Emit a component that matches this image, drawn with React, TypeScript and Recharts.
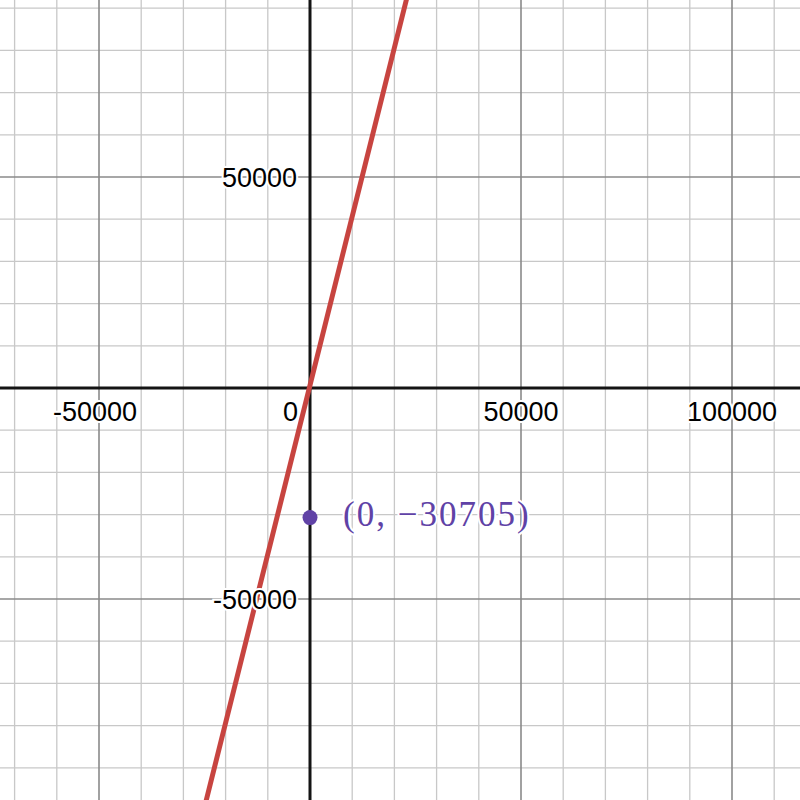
import { ComposedChart, XAxis, YAxis, Line, Scatter, ReferenceLine } from "recharts";

// view window (origin sits at ~310,388 px)
const xDomain = [-73460, 116114];
const yDomain = [-97630, 91943];

// grid
const xMinor = [-70000, -60000, -40000, -30000, -20000, -10000, 10000, 20000, 30000, 40000, 60000, 70000, 80000, 90000, 110000];
const xMajor = [-50000, 50000, 100000];
const yMinor = [-90000, -80000, -70000, -60000, -40000, -30000, -20000, -10000, 10000, 20000, 30000, 40000, 60000, 70000, 80000, 90000];
const yMajor = [-50000, 50000];

// tick labels
const xTickLabels = ["-50000", "0", "50000", "100000"];
const xTickValues = [-50000, 0, 50000, 100000];
const yTickLabels = ["50000", "-50000"];
const yTickValues = [50000, -50000];

// red line, two ends
const lineX = [-25000, 23500];
const lineY = [-99350, 94650];

// labelled point
const pointX = [0];
const pointY = [-30705];
const pointLabels = ["(0, \u221230705)"];

const lineData = lineX.map((x, i) => ({ x, y: lineY[i] }));
const xLabelData = xTickValues.map((x, i) => ({ x, y: 0, text: xTickLabels[i] }));
const yLabelData = yTickValues.map((y, i) => ({ x: 0, y, text: yTickLabels[i] }));
const pointData = pointX.map((x, i) => ({ x, y: pointY[i], text: pointLabels[i] }));

const RED = "#c74440";
const PURPLE = "#6042a6";
const tickFont = { fontFamily: "Liberation Sans, Arial, sans-serif", fontSize: 27 };

function XTick(props: any) {
  const { cx, cy, payload } = props;
  const isZero = payload.x === 0;
  const neg = payload.x < 0;
  return (
    <text
      x={isZero ? cx - 12 : cx + (neg ? -4 : 0)}
      y={cy + 33}
      textAnchor={isZero ? "end" : "middle"}
      fill="#000"
      stroke="#fff"
      strokeWidth={4}
      paintOrder="stroke"
      style={tickFont}
    >
      {payload.text}
    </text>
  );
}

function YTick(props: any) {
  const { cx, cy, payload } = props;
  return (
    <text
      x={cx - 13}
      y={cy + 10}
      textAnchor="end"
      fill="#000"
      stroke="#fff"
      strokeWidth={4}
      paintOrder="stroke"
      style={tickFont}
    >
      {payload.text}
    </text>
  );
}

function PointShape(props: any) {
  const { cx, cy, payload } = props;
  return (
    <g>
      <circle cx={cx} cy={cy} r={7.5} fill={PURPLE} />
      <text
        x={cx + 33}
        y={cy + 8}
        fill={PURPLE}
        stroke="#fff"
        strokeWidth={4}
        paintOrder="stroke"
        letterSpacing={2}
        style={{ fontFamily: "Liberation Serif, Times New Roman, serif", fontSize: 35 }}
      >
        {payload.text}
      </text>
    </g>
  );
}

export default function App() {
  return (
    <div style={{ position: "absolute", left: 0, top: 0, width: 800, height: 800, background: "#fff" }}>
      <ComposedChart width={800} height={800} margin={{ top: 0, right: 0, bottom: 0, left: 0 }}>
        <XAxis type="number" dataKey="x" domain={xDomain} allowDataOverflow hide />
        <YAxis type="number" dataKey="y" domain={yDomain} allowDataOverflow hide />
        {xMinor.map((v) => (
          <ReferenceLine key={"xm" + v} x={v} stroke="#c8c8c8" strokeWidth={1.3} />
        ))}
        {yMinor.map((v) => (
          <ReferenceLine key={"ym" + v} y={v} stroke="#c8c8c8" strokeWidth={1.3} />
        ))}
        {xMajor.map((v) => (
          <ReferenceLine key={"xM" + v} x={v} stroke="#8a8a8a" strokeWidth={1.6} />
        ))}
        {yMajor.map((v) => (
          <ReferenceLine key={"yM" + v} y={v} stroke="#8a8a8a" strokeWidth={1.6} />
        ))}
        <ReferenceLine x={0} stroke="#141414" strokeWidth={3} />
        <ReferenceLine y={0} stroke="#141414" strokeWidth={3} />
        <Scatter data={xLabelData} shape={<XTick />} isAnimationActive={false} />
        <Scatter data={yLabelData} shape={<YTick />} isAnimationActive={false} />
        <Line
          data={lineData}
          dataKey="y"
          type="linear"
          stroke={RED}
          strokeWidth={5}
          dot={false}
          activeDot={false}
          isAnimationActive={false}
        />
        <Scatter data={pointData} shape={<PointShape />} isAnimationActive={false} />
      </ComposedChart>
    </div>
  );
}
